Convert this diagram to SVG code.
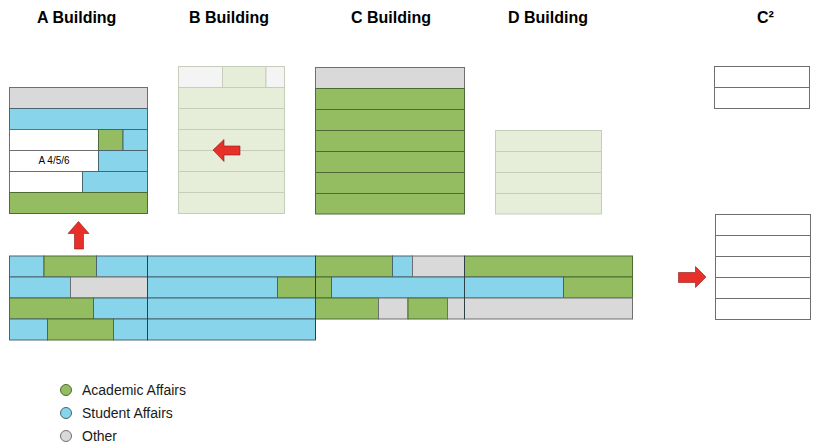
<svg xmlns="http://www.w3.org/2000/svg" width="817" height="447" viewBox="0 0 817 447">
<style>
.t{font-family:"Liberation Sans",Arial,sans-serif;font-weight:bold;font-size:16px;fill:#000}
.l{font-family:"Liberation Sans",Arial,sans-serif;font-size:14px;fill:#1a1a1a}
.s{font-family:"Liberation Sans",Arial,sans-serif;font-size:10px;fill:#000}
.g{fill:#93bd60;stroke:#4f6b35;stroke-width:1}
.b{fill:#88d4ea;stroke:#4a6470;stroke-width:1}
.o{fill:#d9d9d9;stroke:#6f6f6f;stroke-width:1}
.w{fill:#fff;stroke:#6f6f6f;stroke-width:1}
.lg{fill:#e6eeda;stroke:#c6cdbd;stroke-width:1}
.lw{fill:#f4f4f4;stroke:#c6cdbd;stroke-width:1}
.a{fill:#e8302a;stroke:#8a1a16;stroke-width:0.6}
.sep{stroke:#2f3f45;stroke-width:1}
</style>
<rect width="817" height="447" fill="#fff"/>
<g id="titles">
<text class="t" x="37" y="23">A Building</text>
<text class="t" x="189" y="23">B Building</text>
<text class="t" x="351" y="23">C Building</text>
<text class="t" x="508" y="23">D Building</text>
<text class="t" x="757" y="23">C²</text>
</g>
<g id="building-a">
<rect class="o" x="9.5" y="87.5" width="138" height="21"/>
<rect class="b" x="9.5" y="108.5" width="138" height="21"/>
<rect class="w" x="9.5" y="129.5" width="89" height="21"/>
<rect class="g" x="98.5" y="129.5" width="24.5" height="21"/>
<rect class="b" x="123" y="129.5" width="24.5" height="21"/>
<rect class="w" x="9.5" y="150.5" width="89" height="21"/>
<text class="s" x="54" y="164" text-anchor="middle">A 4/5/6</text>
<rect class="b" x="98.5" y="150.5" width="49" height="21"/>
<rect class="w" x="9.5" y="171.5" width="73" height="21"/>
<rect class="b" x="82.5" y="171.5" width="65" height="21"/>
<rect class="g" x="9.5" y="192.5" width="138" height="21"/>
</g>
<g id="building-b">
<rect class="lw" x="178.5" y="66.5" width="44" height="21"/>
<rect class="lg" x="222.5" y="66.5" width="43.5" height="21"/>
<rect class="lw" x="266" y="66.5" width="18.5" height="21"/>
<rect class="lg" x="178.5" y="87.5" width="106" height="21"/>
<rect class="lg" x="178.5" y="108.5" width="106" height="21"/>
<rect class="lg" x="178.5" y="129.5" width="106" height="21"/>
<rect class="lg" x="178.5" y="150.5" width="106" height="21"/>
<rect class="lg" x="178.5" y="171.5" width="106" height="21"/>
<rect class="lg" x="178.5" y="192.5" width="106" height="21"/>
</g>
<g id="building-c">
<rect class="o" x="315.5" y="67.5" width="149" height="21"/>
<rect class="g" x="315.5" y="88.5" width="149" height="21"/>
<rect class="g" x="315.5" y="109.5" width="149" height="21"/>
<rect class="g" x="315.5" y="130.5" width="149" height="21"/>
<rect class="g" x="315.5" y="151.5" width="149" height="21"/>
<rect class="g" x="315.5" y="172.5" width="149" height="21"/>
<rect class="g" x="315.5" y="193.5" width="149" height="20.5"/>
</g>
<g id="building-d">
<rect class="lg" x="495.5" y="130.5" width="106" height="21"/>
<rect class="lg" x="495.5" y="151.5" width="106" height="21"/>
<rect class="lg" x="495.5" y="172.5" width="106" height="21"/>
<rect class="lg" x="495.5" y="193.5" width="106" height="20.5"/>
</g>
<g id="floors">
<rect class="b" x="9.5" y="256" width="34.5" height="21"/>
<rect class="g" x="44" y="256" width="52.5" height="21"/>
<rect class="b" x="96.5" y="256" width="51" height="21"/>
<rect class="b" x="147.5" y="256" width="168" height="21"/>
<rect class="g" x="315.5" y="256" width="77" height="21"/>
<rect class="b" x="392.5" y="256" width="20" height="21"/>
<rect class="o" x="412.5" y="256" width="52" height="21"/>
<rect class="g" x="464.5" y="256" width="168" height="21"/>

<rect class="b" x="9.5" y="277" width="61" height="21"/>
<rect class="o" x="70.5" y="277" width="77" height="21"/>
<rect class="b" x="147.5" y="277" width="130" height="21"/>
<rect class="g" x="277.5" y="277" width="38" height="21"/>
<rect class="g" x="315.5" y="277" width="16" height="21"/>
<rect class="b" x="331.5" y="277" width="133" height="21"/>
<rect class="b" x="464.5" y="277" width="99" height="21"/>
<rect class="g" x="563.5" y="277" width="69" height="21"/>

<rect class="g" x="9.5" y="298" width="84" height="21"/>
<rect class="b" x="93.5" y="298" width="54" height="21"/>
<rect class="b" x="147.5" y="298" width="168" height="21"/>
<rect class="g" x="315.5" y="298" width="63" height="21"/>
<rect class="o" x="378.5" y="298" width="29.5" height="21"/>
<rect class="g" x="408" y="298" width="39.5" height="21"/>
<rect class="o" x="447.5" y="298" width="17" height="21"/>
<rect class="o" x="464.5" y="298" width="168" height="21"/>

<rect class="b" x="9.5" y="319" width="38" height="21"/>
<rect class="g" x="47.5" y="319" width="66" height="21"/>
<rect class="b" x="113.5" y="319" width="34" height="21"/>
<rect class="b" x="147.5" y="319" width="168" height="21"/>
<line class="sep" x1="147.5" y1="256" x2="147.5" y2="340"/>
<line class="sep" x1="315.5" y1="256" x2="315.5" y2="340"/>
<line class="sep" x1="464.5" y1="256" x2="464.5" y2="319"/>
</g>
<g id="c2-top">
<rect class="w" x="714.5" y="66.5" width="95" height="21"/>
<rect class="w" x="714.5" y="87.5" width="95" height="21"/>
</g>
<g id="c2-bottom">
<rect class="w" x="715.5" y="214.5" width="95" height="21"/>
<rect class="w" x="715.5" y="235.5" width="95" height="21"/>
<rect class="w" x="715.5" y="256.5" width="95" height="21"/>
<rect class="w" x="715.5" y="277.5" width="95" height="21"/>
<rect class="w" x="715.5" y="298.5" width="95" height="21"/>
</g>
<g id="arrows">
<polygon class="a" points="78.5,221.5 89,233.5 83.5,233.5 83.5,249 74.5,249 74.5,233.5 68,233.5"/>
<polygon class="a" points="213,150 224,139.5 224,146 240,146 240,155 224,155 224,161.5"/>
<polygon class="a" points="706,277 695.5,266.5 695.5,272.5 678.5,272.5 678.5,282.5 695.5,282.5 695.5,287.5"/>
</g>
<g id="legend">
<circle cx="66" cy="390" r="5.5" fill="#93bd60" stroke="#4f6b35"/>
<text class="l" x="82" y="395">Academic Affairs</text>
<circle cx="66" cy="413" r="5.5" fill="#88d4ea" stroke="#4a6470"/>
<text class="l" x="82" y="418">Student Affairs</text>
<circle cx="66" cy="436" r="5.5" fill="#d9d9d9" stroke="#6f6f6f"/>
<text class="l" x="82" y="441">Other</text>
</g>
</svg>
